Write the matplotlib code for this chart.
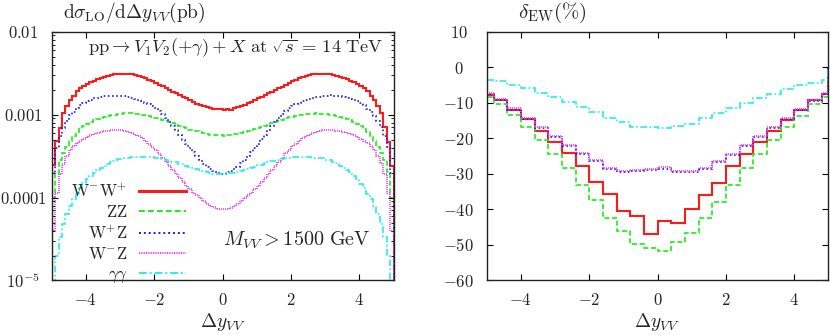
import numpy as np
import matplotlib
matplotlib.use('Agg')
import matplotlib.pyplot as plt

plt.rcParams['mathtext.fontset'] = 'cm'
plt.rcParams['font.family'] = ['DejaVu Serif']

# ---- left panel: dsigma_LO / d dy_VV  (units of 1e-4 pb), bins of 0.1 from -5 to 5
scale = 1e-4
ww = [2.5, 4.8, 6.9, 10.5, 12.6, 15.1, 17.0, 19.1, 20.9, 22.1,
      23.4, 24.5, 25.4, 26.6, 27.5, 28.5, 29.2, 29.9, 30.5, 30.9,
      31.3, 31.3, 30.9, 30.5, 30.2, 29.5, 28.5, 27.5, 26.3, 25.1,
      24.0, 22.9, 21.9, 20.9, 20.0, 18.8, 18.0, 17.2, 16.4, 15.7,
      15.0, 14.3, 13.6, 13.2, 12.7, 12.3, 12.0, 11.7, 11.6, 11.6,
      11.4, 11.7, 11.5, 12.1, 12.2, 12.8, 13.1, 13.7, 14.2, 15.0,
      15.8, 16.3, 17.3, 18.0, 18.9, 19.9, 21.0, 21.8, 23.0, 24.0,
      25.2, 26.2, 27.5, 28.6, 29.4, 30.2, 30.6, 30.9, 31.2, 31.3,
      31.0, 30.5, 29.9, 29.3, 28.4, 27.5, 26.6, 25.5, 24.4, 23.4,
      22.2, 20.8, 19.2, 17.0, 15.0, 12.7, 10.4, 7.0, 4.7, 2.4]
zz = [1.0, 2.00, 2.82, 3.47, 4.07, 4.79, 5.50, 6.17, 6.76, 7.33,
      7.76, 8.13, 8.51, 8.81, 9.12, 9.33, 9.55, 9.77, 10.0, 10.1,
      10.2, 10.35, 10.35, 10.35, 10.2, 10.1, 10.0, 9.89, 9.66, 9.44,
      9.23, 9.02, 8.71, 8.41, 8.13, 7.85, 7.59, 7.33, 7.08, 6.84,
      6.61, 6.46, 6.31, 6.17, 6.03, 5.89, 5.75, 5.69, 5.62, 5.62,
      5.60, 5.64, 5.68, 5.76, 5.88, 6.04, 6.16, 6.32, 6.45, 6.62,
      6.83, 7.09, 7.32, 7.60, 7.84, 8.14, 8.40, 8.72, 9.01, 9.24,
      9.43, 9.67, 9.88, 10.0, 10.1, 10.2, 10.3, 10.4, 10.3, 10.2,
      10.1, 10.0, 9.78, 9.54, 9.34, 9.11, 8.82, 8.50, 8.14, 7.75,
      7.34, 6.75, 6.18, 5.49, 4.80, 4.06, 3.48, 2.81, 2.01, 1.0]
wpz = [2.0, 4.0, 5.6, 6.9, 8.3, 9.8, 10.8, 11.9, 12.9, 13.8,
       14.5, 15.1, 15.7, 16.0, 16.4, 16.6, 16.8, 17.0, 17.0, 17.0,
       16.8, 16.6, 16.2, 15.8, 15.5, 15.0, 14.5, 14.0, 13.5, 12.7,
       12.0, 11.2, 10.2, 9.12, 8.13, 7.24, 6.46, 5.69, 5.01, 4.47,
       3.98, 3.55, 3.16, 2.82, 2.57, 2.34, 2.19, 2.09, 2.00, 1.95,
       1.94, 2.01, 2.08, 2.20, 2.33, 2.58, 2.81, 3.17, 3.54, 3.99,
       4.46, 5.02, 5.68, 6.47, 7.23, 8.14, 9.10, 10.2, 11.2, 12.0,
       12.8, 13.4, 14.0, 14.6, 15.0, 15.4, 15.9, 16.2, 16.5, 16.8,
       17.0, 17.1, 16.9, 16.8, 16.6, 16.3, 16.0, 15.6, 15.1, 14.4,
       13.8, 12.9, 11.8, 10.9, 9.7, 8.3, 7.0, 5.5, 4.1, 2.0]
wmz = [0.40, 1.12, 1.91, 2.57, 3.16, 3.72, 4.17, 4.52, 4.84, 5.13,
       5.37, 5.62, 5.82, 6.03, 6.17, 6.31, 6.38, 6.46, 6.53, 6.53,
       6.46, 6.38, 6.24, 6.03, 5.75, 5.50, 5.19, 4.84, 4.47, 4.12,
       3.76, 3.39, 3.02, 2.69, 2.40, 2.14, 1.91, 1.70, 1.53, 1.38,
       1.26, 1.15, 1.06, 0.977, 0.902, 0.841, 0.794, 0.759, 0.733, 0.724,
       0.722, 0.735, 0.757, 0.796, 0.839, 0.904, 0.975, 1.06, 1.15, 1.26,
       1.39, 1.52, 1.71, 1.90, 2.15, 2.39, 2.70, 3.01, 3.40, 3.75,
       4.13, 4.46, 4.85, 5.18, 5.51, 5.74, 6.04, 6.23, 6.39, 6.45,
       6.54, 6.52, 6.47, 6.37, 6.32, 6.16, 6.04, 5.81, 5.63, 5.36,
       5.14, 4.83, 4.53, 4.16, 3.73, 3.15, 2.58, 1.90, 1.13, 0.40]
aa = [0.063, 0.200, 0.331, 0.479, 0.631, 0.794, 0.955, 1.12, 1.29, 1.48,
      1.66, 1.82, 2.00, 2.14, 2.29, 2.43, 2.57, 2.69, 2.79, 2.88,
      2.95, 2.99, 3.02, 3.05, 3.09, 3.09, 3.09, 3.09, 3.09, 3.05,
      3.02, 2.95, 2.92, 2.85, 2.79, 2.72, 2.66, 2.57, 2.51, 2.43,
      2.34, 2.26, 2.19, 2.14, 2.09, 2.04, 2.00, 1.95, 1.93, 1.91,
      1.90, 1.94, 1.96, 1.99, 2.05, 2.08, 2.15, 2.18, 2.27, 2.33,
      2.44, 2.50, 2.58, 2.65, 2.73, 2.78, 2.86, 2.91, 2.96, 3.01,
      3.06, 3.08, 3.10, 3.09, 3.08, 3.09, 3.04, 3.03, 2.98, 2.96,
      2.87, 2.80, 2.68, 2.58, 2.42, 2.30, 2.13, 2.01, 1.81, 1.67,
      1.47, 1.30, 1.11, 0.96, 0.79, 0.63, 0.48, 0.33, 0.20, 0.063]

# ---- right panel: delta_EW in %, bins of 0.4 (outer ones cut at +-5)
ew_edges = [-5.0, -4.8, -4.4, -4.0, -3.6, -3.2, -2.8, -2.4, -2.0, -1.6, -1.2, -0.8, -0.4, 0.0,
            0.4, 0.8, 1.2, 1.6, 2.0, 2.4, 2.8, 3.2, 3.6, 4.0, 4.4, 4.8, 5.0]
ew_ww = [-7.8, -9.2, -11.9, -14.5, -17.8, -21.0, -24.2, -27.8, -32.2, -35.8, -40.4, -41.8, -46.9,
         -43.2, -43.9, -39.8, -35.9, -32.5, -27.8, -24.3, -21.1, -17.8, -14.9, -12.0, -9.1, -7.6]
ew_zz = [-8.4, -10.3, -13.4, -16.7, -20.4, -24.5, -28.4, -33.2, -37.4, -42.5, -46.2, -49.7, -50.8,
         -51.6, -49.3, -46.5, -42.4, -37.9, -33.2, -28.4, -24.5, -20.5, -16.8, -13.6, -10.4, -8.4]
ew_wpz = [-7.5, -9.1, -11.9, -14.5, -17.1, -19.7, -22.2, -24.5, -26.5, -28.6, -29.5, -29.3, -28.8,
          -28.5, -29.5, -29.5, -28.5, -26.7, -24.6, -22.2, -19.6, -17.1, -14.6, -12.0, -9.4, -7.5]
ew_wmz = [-7.2, -8.8, -11.6, -14.2, -16.8, -19.4, -21.9, -24.2, -26.2, -28.3, -29.2, -29.0, -28.5,
          -28.1, -29.2, -29.3, -28.3, -26.4, -24.3, -21.9, -19.3, -16.8, -14.3, -11.7, -9.1, -7.2]
ew_aa = [-3.7, -3.8, -4.9, -5.9, -7.2, -8.4, -9.8, -11.2, -12.6, -14.2, -15.5, -16.7, -16.9,
         -17.2, -16.5, -16.0, -14.4, -13.0, -11.4, -10.0, -8.6, -7.5, -6.1, -4.9, -4.3, -3.6]

labels = [r'$\mathrm{W^{-}W^{+}}$', r'$\mathrm{ZZ}$', r'$\mathrm{W^{+}Z}$',
          r'$\mathrm{W^{-}Z}$', r'$\gamma\gamma$']
colors = ['#ff1a1a', '#1aee1a', '#1a1aff', '#ff33ff', '#22eeee']
styles = ['-', (0, (3, 1.6)), (0, (1, 1.5)), (0, (0.6, 0.6)), (0, (4, 1.5, 1, 1.5))]
widths = [1.5, 1.2, 1.2, 1.2, 1.2]
tc = '#262626'

fig = plt.figure(figsize=(8.3, 3.35), dpi=100)
ax1 = fig.add_axes([0.0623, 0.1627, 0.4118, 0.7427])
ax2 = fig.add_axes([0.5864, 0.1627, 0.4116, 0.7427])

edges = np.linspace(-5, 5, 101)
for vals, lab, c, ls, lw in zip([ww, zz, wpz, wmz, aa], labels, colors, styles, widths):
    ax1.stairs(np.array(vals) * scale, edges, baseline=1e-7, color=c, ls=ls, lw=lw, label=lab)

ax1.set_yscale('log')
ax1.set_xlim(-5, 5)
ax1.set_ylim(1e-5, 1e-2)
ax1.set_yticks([1e-5, 1e-4, 1e-3, 1e-2])
ax1.set_yticklabels([r'$10^{-5}$', r'$0.0001$', r'$0.001$', r'$0.01$'])
ax1.set_xticks([-4, -2, 0, 2, 4])
ax1.set_xticklabels([r'$-4$', r'$-2$', r'$0$', r'$2$', r'$4$'])

leg = ax1.legend(loc='lower right', bbox_to_anchor=(0.412, -0.045), frameon=False,
                 markerfirst=False, fontsize=12, handlelength=2.8, handletextpad=0.7,
                 labelspacing=0.2, borderaxespad=0)
for t in leg.get_texts():
    t.set_color(tc)
for h, w in zip(leg.get_lines(), [2.2, 1.4, 1.4, 1.4, 1.4]):
    h.set_linewidth(w)

ax1.text(0.97, 0.934, r'$\mathrm{pp}\rightarrow V_1V_2(+\gamma)+X\ \mathrm{at}\ \sqrt{s}\,=\,14\ \mathrm{TeV}$',
         transform=ax1.transAxes, ha='right', va='center', fontsize=13.3, color=tc)
ax1.text(0.5, 0.163, r'$M_{VV}>1500\ \mathrm{GeV}$', transform=ax1.transAxes,
         ha='left', va='center', fontsize=14.5, color=tc)
ax1.text(0.033, 1.075, r'$\mathrm{d}\sigma_{\mathrm{LO}}/\mathrm{d}\Delta y_{VV}(\mathrm{pb})$',
         transform=ax1.transAxes, ha='left', va='center', fontsize=14, color=tc)

for vals, c, ls, lw in zip([ew_ww, ew_zz, ew_wpz, ew_wmz, ew_aa], colors, styles, widths):
    ax2.stairs(vals, ew_edges, color=c, ls=ls, lw=lw)

ax2.set_xlim(-5, 5)
ax2.set_ylim(-60, 10)
ax2.set_yticks(range(-60, 11, 10))
ax2.set_yticklabels([r'$%d$' % v for v in range(-60, 11, 10)])
ax2.set_xticks([-4, -2, 0, 2, 4])
ax2.set_xticklabels([r'$-4$', r'$-2$', r'$0$', r'$2$', r'$4$'])
ax2.text(0.092, 1.075, r'$\delta_{\mathrm{EW}}(\%)$', transform=ax2.transAxes,
         ha='left', va='center', fontsize=15, color=tc)

for ax in (ax1, ax2):
    ax.set_xlabel(r'$\Delta y_{VV}$', fontsize=14, color=tc, labelpad=2)
    ax.tick_params(which='both', direction='in', top=True, right=True,
                   labelsize=12, labelcolor=tc)
    ax.tick_params(axis='x', pad=8)
    ax.tick_params(which='major', length=4.5, width=0.8)
    ax.tick_params(which='minor', length=2.5, width=0.6)
    for s in ax.spines.values():
        s.set_linewidth(1.0)
        s.set_color('#222222')
    for t in ax.get_yticklabels():
        t.set_horizontalalignment('center')
ax1.tick_params(axis='y', pad=20.5)
ax2.tick_params(axis='y', pad=20)

fig.savefig('out.png', dpi=100)
